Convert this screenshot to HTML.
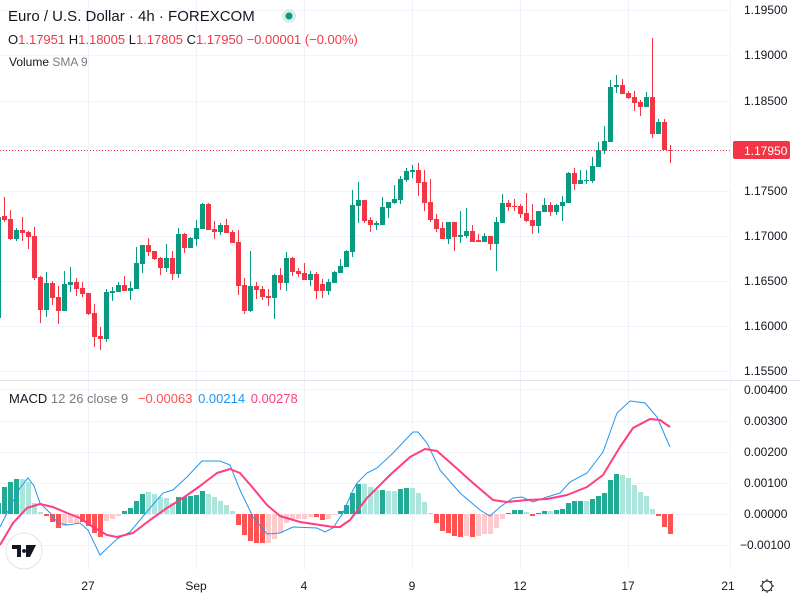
<!DOCTYPE html>
<html><head><meta charset="utf-8"><style>
html,body{margin:0;padding:0;background:#fff;}
svg{display:block;font-family:"Liberation Sans",sans-serif;}
</style></head><body>
<svg width="800" height="600" viewBox="0 0 800 600" xmlns="http://www.w3.org/2000/svg">
<defs>
<clipPath id="cp"><rect x="0" y="0" width="730" height="380"/></clipPath>
<clipPath id="cm"><rect x="0" y="381" width="730" height="189"/></clipPath>
</defs>
<rect width="800" height="600" fill="#fff"/>
<g stroke="#f0f3fa" stroke-width="1">
<path d="M88.5 0V570M196.5 0V570M304.5 0V570M412.5 0V570M520.5 0V570M628.5 0V570"/>
<path d="M0 10.5H730M0 55.5H730M0 101.5H730M0 146.5H730M0 191.5H730M0 236.5H730M0 281.5H730M0 326.5H730M0 371.5H730"/>
<path d="M0 389.5H730M0 421.5H730M0 452.5H730M0 483.5H730M0 514.5H730M0 545.5H730"/>
</g>
<line x1="0" y1="380.5" x2="800" y2="380.5" stroke="#e0e3eb"/>
<line x1="730.5" y1="0" x2="730.5" y2="570" stroke="#f0f3fa"/>
<g clip-path="url(#cp)">
<path stroke="#089981" stroke-width="1" fill="none" d="M-1.5 217V318M16.5 228V241M46.5 272V317M64.5 271V311M70.5 267V292M106.5 289V342M112.5 287V301M118.5 282V292M130.5 281V300M136.5 247V289M142.5 245V273M166.5 244V272M178.5 228V278M190.5 237V248M196.5 220V246M202.5 203V229M220.5 223V235M250.5 251V312M274.5 274V319M286.5 252V291M310.5 271V286M328.5 279V295M334.5 271V283M340.5 259V273M346.5 250V267M352.5 190V257M358.5 182V223M376.5 221V230M382.5 197V225M388.5 202V218M394.5 185V204M400.5 176V204M406.5 168V182M412.5 165V178M448.5 222V244M460.5 211V243M466.5 208V238M484.5 233V242M496.5 217V271M502.5 194V223M538.5 211V233M544.5 198V212M556.5 204V215M562.5 196V221M568.5 172V203M580.5 170V184M586.5 170V184M592.5 157V183M598.5 142V167M604.5 126V154M610.5 80V142M616.5 75V93M646.5 92V107M658.5 119V134"/>
<path fill="#089981" d="M-4 217h5v101h-5zM14 230h5v9h-5zM44 283h5v27h-5zM62 284h5v27h-5zM68 282h5v3h-5zM104 292h5v47h-5zM110 291h5v2h-5zM116 285h5v7h-5zM128 288h5v3h-5zM134 263h5v26h-5zM140 245h5v19h-5zM164 258h5v10h-5zM176 234h5v40h-5zM188 238h5v10h-5zM194 228h5v11h-5zM200 204h5v25h-5zM218 225h5v7h-5zM248 286h5v25h-5zM272 275h5v23h-5zM284 258h5v25h-5zM308 274h5v6h-5zM326 282h5v9h-5zM332 272h5v11h-5zM338 266h5v7h-5zM344 251h5v16h-5zM350 205h5v47h-5zM356 200h5v6h-5zM374 223h5v2h-5zM380 207h5v18h-5zM386 202h5v6h-5zM392 199h5v4h-5zM398 179h5v21h-5zM404 171h5v9h-5zM410 170h5v2h-5zM446 222h5v17h-5zM458 235h5v2h-5zM464 231h5v5h-5zM482 236h5v6h-5zM494 222h5v22h-5zM500 203h5v20h-5zM536 211h5v15h-5zM542 205h5v7h-5zM554 205h5v7h-5zM560 202h5v4h-5zM566 173h5v30h-5zM578 180h5v4h-5zM584 180h5v1h-5zM590 166h5v15h-5zM596 150h5v17h-5zM602 141h5v10h-5zM608 87h5v55h-5zM614 85h5v2h-5zM644 97h5v10h-5zM656 122h5v12h-5z"/>
<path stroke="#f23645" stroke-width="1" fill="none" d="M4.5 197V222M10.5 210V240M22.5 217V241M28.5 231V249M34.5 227V280M40.5 276V323M52.5 281V305M58.5 286V324M76.5 278V296M82.5 282V297M88.5 293V315M94.5 304V347M100.5 327V350M124.5 276V291M148.5 238V256M154.5 251V260M160.5 257V275M172.5 251V280M184.5 233V253M208.5 203V230M214.5 221V239M226.5 219V233M232.5 230V243M238.5 230V295M244.5 278V314M256.5 282V299M262.5 286V300M268.5 289V306M280.5 268V290M292.5 257V276M298.5 268V277M304.5 263V280M316.5 272V299M322.5 279V298M364.5 200V223M370.5 217V232M418.5 163V196M424.5 170V211M430.5 179V222M436.5 214V232M442.5 222V239M454.5 222V251M472.5 225V242M478.5 234V242M490.5 236V250M508.5 200V211M514.5 199V211M520.5 204V218M526.5 193V222M532.5 204V234M550.5 202V216M574.5 168V190M622.5 79V94M628.5 91V99M634.5 91V111M640.5 100V116M652.5 38V138M664.5 119V150M670.5 145V163"/>
<path fill="#f23645" d="M2 216h5v4h-5zM8 219h5v20h-5zM20 230h5v3h-5zM26 232h5v5h-5zM32 236h5v42h-5zM38 277h5v33h-5zM50 283h5v15h-5zM56 297h5v14h-5zM74 282h5v7h-5zM80 288h5v6h-5zM86 293h5v21h-5zM92 313h5v24h-5zM98 336h5v3h-5zM122 285h5v6h-5zM146 245h5v7h-5zM152 251h5v8h-5zM158 258h5v10h-5zM170 258h5v16h-5zM182 234h5v14h-5zM206 204h5v26h-5zM212 229h5v3h-5zM224 225h5v8h-5zM230 232h5v11h-5zM236 242h5v44h-5zM242 285h5v26h-5zM254 286h5v4h-5zM260 289h5v8h-5zM266 296h5v2h-5zM278 275h5v8h-5zM290 258h5v14h-5zM296 271h5v3h-5zM302 273h5v7h-5zM314 274h5v17h-5zM320 284h5v7h-5zM362 200h5v21h-5zM368 220h5v5h-5zM416 170h5v13h-5zM422 182h5v21h-5zM428 202h5v18h-5zM434 219h5v10h-5zM440 228h5v11h-5zM452 222h5v15h-5zM470 231h5v11h-5zM476 240h5v2h-5zM488 236h5v8h-5zM506 203h5v4h-5zM512 206h5v1h-5zM518 206h5v8h-5zM524 213h5v8h-5zM530 220h5v6h-5zM548 205h5v7h-5zM572 173h5v11h-5zM620 85h5v9h-5zM626 93h5v5h-5zM632 97h5v6h-5zM638 102h5v5h-5zM650 97h5v37h-5zM662 122h5v28h-5zM668 150h5v1h-5z"/>
</g>
<line x1="0" y1="150.5" x2="730" y2="150.5" stroke="#f23645" stroke-width="1" stroke-dasharray="1,2"/>
<g clip-path="url(#cm)">
<path fill="#22ab94" d="M-4 514h5v-11h-5zM2 514h5v-27h-5zM8 514h5v-32h-5zM14 514h5v-35h-5zM122 514h5v-3h-5zM128 514h5v-6h-5zM134 514h5v-13h-5zM140 514h5v-20h-5zM176 514h5v-17h-5zM182 514h5v-17h-5zM188 514h5v-18h-5zM194 514h5v-19h-5zM200 514h5v-23h-5zM338 514h5v-3h-5zM344 514h5v-9h-5zM350 514h5v-21h-5zM356 514h5v-30h-5zM380 514h5v-24h-5zM398 514h5v-25h-5zM404 514h5v-26h-5zM506 514h5v-1h-5zM512 514h5v-4h-5zM518 514h5v-4h-5zM536 514h5v-1h-5zM542 514h5v-3h-5zM554 514h5v-4h-5zM560 514h5v-5h-5zM566 514h5v-11h-5zM572 514h5v-13h-5zM578 514h5v-13h-5zM590 514h5v-15h-5zM596 514h5v-18h-5zM602 514h5v-21h-5zM608 514h5v-34h-5zM614 514h5v-40h-5z"/>
<path fill="#ace5dc" d="M20 514h5v-35h-5zM26 514h5v-32h-5zM32 514h5v-11h-5zM38 514h5v-2h-5zM146 514h5v-22h-5zM152 514h5v-20h-5zM158 514h5v-17h-5zM164 514h5v-16h-5zM170 514h5v-11h-5zM206 514h5v-20h-5zM212 514h5v-17h-5zM218 514h5v-13h-5zM224 514h5v-9h-5zM230 514h5v-3h-5zM362 514h5v-30h-5zM368 514h5v-27h-5zM374 514h5v-24h-5zM386 514h5v-23h-5zM392 514h5v-23h-5zM410 514h5v-26h-5zM416 514h5v-21h-5zM422 514h5v-12h-5zM428 514h5v-1h-5zM524 514h5v-2h-5zM548 514h5v-3h-5zM584 514h5v-13h-5zM620 514h5v-39h-5zM626 514h5v-36h-5zM632 514h5v-29h-5zM638 514h5v-22h-5zM644 514h5v-18h-5zM650 514h5v-5h-5z"/>
<path fill="#ff5252" d="M44 514h5v2h-5zM50 514h5v8h-5zM56 514h5v14h-5zM80 514h5v8h-5zM86 514h5v12h-5zM92 514h5v19h-5zM98 514h5v23h-5zM236 514h5v11h-5zM242 514h5v21h-5zM248 514h5v27h-5zM254 514h5v29h-5zM260 514h5v29h-5zM314 514h5v3h-5zM320 514h5v6h-5zM434 514h5v9h-5zM440 514h5v17h-5zM446 514h5v19h-5zM452 514h5v22h-5zM458 514h5v23h-5zM470 514h5v23h-5zM530 514h5v2h-5zM656 514h5v2h-5zM662 514h5v13h-5zM668 514h5v20h-5z"/>
<path fill="#fccbcd" d="M62 514h5v12h-5zM68 514h5v9h-5zM74 514h5v9h-5zM104 514h5v7h-5zM110 514h5v5h-5zM116 514h5v2h-5zM266 514h5v29h-5zM272 514h5v25h-5zM278 514h5v19h-5zM284 514h5v9h-5zM290 514h5v5h-5zM296 514h5v5h-5zM302 514h5v5h-5zM308 514h5v3h-5zM326 514h5v5h-5zM332 514h5v1h-5zM464 514h5v22h-5zM476 514h5v22h-5zM482 514h5v20h-5zM488 514h5v20h-5zM494 514h5v14h-5zM500 514h5v5h-5z"/>
<polyline fill="none" stroke="#2196f3" stroke-width="1" points="0,527 10,507 20,488 28,478 34,486 40,503 50,513 58,523 67,525 80,523 88,530 100,555 117,539 130,532 140,520 150,508 163,493 173,490 187,477 202,461 220,461 230,465 240,490 253,517 267,534 280,533 293,527 317,528 325,532 333,528 343,513 353,490 357,483 367,473 377,468 393,453 413,432 418,432 427,443 440,470 460,493 480,510 490,516 500,507 513,498 522,497 533,502 547,497 560,493 570,482 587,473 603,452 617,413 630,401 645,403 657,417 670,447"/>
<polyline fill="none" stroke="#ff3d7f" stroke-width="2" stroke-linejoin="round" points="0,545 13,523 27,508 40,504 53,507 67,513 80,518 93,527 107,535 117,537 133,533 150,520 167,508 183,498 200,486 217,473 230,469 240,473 253,488 267,505 280,516 300,522 320,525 333,527 340,527 350,520 367,498 390,475 410,457 425,449 437,451 453,465 473,483 493,500 507,502 527,500 547,499 567,495 587,487 603,475 620,447 633,428 650,419 660,420 670,427"/>
</g>
<circle cx="24" cy="551" r="18" fill="#fff" stroke="#e0e3eb"/>
<path d="M12 545h9v12h-4v-8h-5z M24 549a2 2 0 1 0 0.1 0z M26 545h10l-6 12h-4z" fill="#131722"/>
<text x="8" y="21" font-size="15" fill="#131722">Euro / U.S. Dollar · 4h · FOREXCOM</text>
<circle cx="289" cy="16" r="7" fill="#d7efe9"/>
<circle cx="289" cy="16" r="3.5" fill="#089981"/>
<text x="8" y="44" font-size="13" fill="#f23645"><tspan fill="#131722">O</tspan>1.17951 <tspan fill="#131722">H</tspan>1.18005 <tspan fill="#131722">L</tspan>1.17805 <tspan fill="#131722">C</tspan>1.17950 −0.00001 (−0.00%)</text>
<text x="9" y="66" font-size="12" fill="#131722">Volume <tspan fill="#787b86">SMA 9</tspan></text>
<text x="9" y="403" font-size="13" fill="#131722">MACD <tspan fill="#787b86">12 26 close 9</tspan> <tspan fill="#ff5252" dx="6">−0.00063</tspan> <tspan fill="#2196f3" dx="2">0.00214</tspan> <tspan fill="#ff3d7f" dx="2">0.00278</tspan></text>
<g font-size="12" fill="#131722">
<text x="744" y="14">1.19500</text>
<text x="744" y="59">1.19000</text>
<text x="744" y="105">1.18500</text>
<text x="744" y="195">1.17500</text>
<text x="744" y="240">1.17000</text>
<text x="744" y="285">1.16500</text>
<text x="744" y="330">1.16000</text>
<text x="744" y="375">1.15500</text>
<text x="744" y="394">0.00400</text>
<text x="744" y="425">0.00300</text>
<text x="744" y="456">0.00200</text>
<text x="744" y="487">0.00100</text>
<text x="744" y="518">0.00000</text>
<text x="740" y="549">−0.00100</text>
</g>
<rect x="733" y="141" width="57" height="18" rx="2" fill="#f23645"/>
<text x="744" y="155" font-size="12" fill="#fff">1.17950</text>
<g font-size="12" fill="#131722" text-anchor="middle">
<text x="88" y="590">27</text>
<text x="196" y="590">Sep</text>
<text x="304" y="590">4</text>
<text x="412" y="590">9</text>
<text x="520" y="590">12</text>
<text x="628" y="590">17</text>
<text x="728" y="590">21</text>
</g>
<g stroke="#131722" stroke-width="1" fill="none">
<circle cx="767" cy="586" r="5"/>
<path d="M767 579v2M767 591v2M760 586h2M772 586h2M762 581l1.5 1.5M772 581l-1.5 1.5M762 591l1.5-1.5M772 591l-1.5-1.5"/>
</g>
</svg>
</body></html>
